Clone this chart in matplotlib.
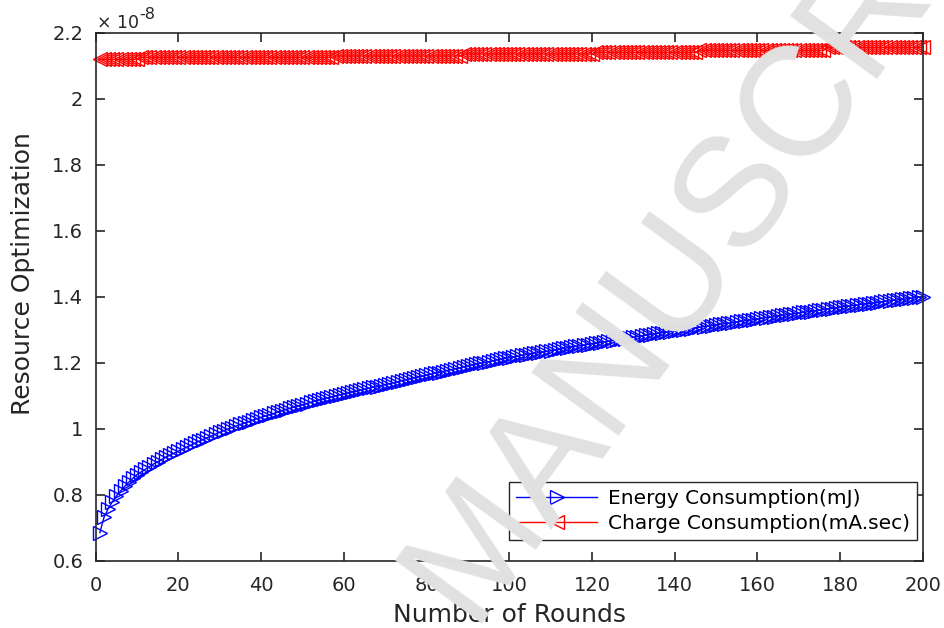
import matplotlib
matplotlib.use("Agg")
import matplotlib.pyplot as plt
import numpy as np

# ---- data (values in units of 1e-8) ----
rounds = list(range(1, 201))

energy = [
    0.686, 0.732, 0.758, 0.779, 0.797, 0.812, 0.826, 0.839, 0.851, 0.862,
    0.870, 0.878, 0.886, 0.894, 0.901, 0.908, 0.915, 0.921, 0.927, 0.933,
    0.939, 0.945, 0.951, 0.957, 0.963, 0.968, 0.974, 0.979, 0.985, 0.990,
    0.995, 1.000, 1.004, 1.009, 1.014, 1.018, 1.022, 1.027, 1.031, 1.035,
    1.039, 1.043, 1.047, 1.051, 1.055, 1.059, 1.063, 1.066, 1.070, 1.074,
    1.077, 1.081, 1.084, 1.088, 1.091, 1.094, 1.097, 1.100, 1.103, 1.106,
    1.109, 1.112, 1.114, 1.117, 1.120, 1.123, 1.126, 1.128, 1.131, 1.134,
    1.137, 1.140, 1.143, 1.146, 1.149, 1.152, 1.155, 1.157, 1.160, 1.163,
    1.166, 1.169, 1.171, 1.174, 1.177, 1.180, 1.183, 1.185, 1.188, 1.191,
    1.194, 1.196, 1.199, 1.201, 1.204, 1.206, 1.209, 1.211, 1.214, 1.216,
    1.218, 1.220, 1.223, 1.225, 1.227, 1.229, 1.231, 1.233, 1.235, 1.237,
    1.239, 1.241, 1.244, 1.246, 1.248, 1.250, 1.252, 1.254, 1.256, 1.258,
    1.260, 1.262, 1.264, 1.266, 1.268, 1.270, 1.272, 1.274, 1.276, 1.278,
    1.280, 1.282, 1.284, 1.286, 1.288, 1.290, 1.292, 1.293, 1.295, 1.297,
    1.299, 1.301, 1.302, 1.304, 1.306, 1.308, 1.310, 1.311, 1.313, 1.315,
    1.317, 1.319, 1.320, 1.322, 1.324, 1.326, 1.328, 1.329, 1.331, 1.333,
    1.335, 1.337, 1.338, 1.340, 1.342, 1.344, 1.346, 1.347, 1.349, 1.351,
    1.353, 1.355, 1.356, 1.358, 1.360, 1.362, 1.364, 1.365, 1.367, 1.369,
    1.371, 1.372, 1.374, 1.375, 1.377, 1.379, 1.380, 1.382, 1.383, 1.385,
    1.387, 1.388, 1.390, 1.391, 1.393, 1.394, 1.396, 1.397, 1.399, 1.400,
]

charge = [
    2.120, 2.120, 2.120, 2.120, 2.120, 2.120, 2.120, 2.120, 2.120, 2.120,
    2.126, 2.126, 2.126, 2.126, 2.126, 2.126, 2.126, 2.126, 2.126, 2.126,
    2.126, 2.126, 2.126, 2.126, 2.126, 2.126, 2.126, 2.126, 2.126, 2.126,
    2.126, 2.126, 2.126, 2.126, 2.126, 2.126, 2.126, 2.126, 2.126, 2.126,
    2.126, 2.126, 2.126, 2.126, 2.126, 2.126, 2.126, 2.126, 2.126, 2.126,
    2.126, 2.126, 2.126, 2.126, 2.126, 2.126, 2.126, 2.130, 2.130, 2.130,
    2.130, 2.130, 2.130, 2.130, 2.130, 2.130, 2.130, 2.130, 2.130, 2.130,
    2.130, 2.130, 2.130, 2.130, 2.130, 2.130, 2.130, 2.130, 2.130, 2.130,
    2.130, 2.130, 2.130, 2.130, 2.130, 2.130, 2.130, 2.130, 2.136, 2.136,
    2.136, 2.136, 2.136, 2.136, 2.136, 2.136, 2.136, 2.136, 2.136, 2.136,
    2.136, 2.136, 2.136, 2.136, 2.136, 2.136, 2.136, 2.136, 2.136, 2.136,
    2.136, 2.136, 2.136, 2.136, 2.136, 2.136, 2.136, 2.136, 2.136, 2.136,
    2.141, 2.141, 2.141, 2.141, 2.141, 2.141, 2.141, 2.141, 2.141, 2.141,
    2.141, 2.141, 2.141, 2.141, 2.141, 2.141, 2.141, 2.141, 2.141, 2.141,
    2.141, 2.141, 2.141, 2.141, 2.141, 2.147, 2.147, 2.147, 2.147, 2.147,
    2.147, 2.147, 2.147, 2.147, 2.147, 2.147, 2.147, 2.147, 2.147, 2.147,
    2.147, 2.147, 2.147, 2.147, 2.147, 2.147, 2.147, 2.147, 2.147, 2.147,
    2.147, 2.147, 2.147, 2.147, 2.147, 2.147, 2.156, 2.156, 2.156, 2.156,
    2.156, 2.156, 2.156, 2.156, 2.156, 2.156, 2.156, 2.156, 2.156, 2.156,
    2.156, 2.156, 2.156, 2.156, 2.156, 2.156, 2.156, 2.156, 2.156, 2.156,
]

x_ticks = [0, 20, 40, 60, 80, 100, 120, 140, 160, 180, 200]
y_ticks = [0.6, 0.8, 1.0, 1.2, 1.4, 1.6, 1.8, 2.0, 2.2]
series_labels = ["Energy Consumption(mJ)", "Charge Consumption(mA.sec)"]
x_label = "Number of Rounds"
y_label = "Resource Optimization"
exponent_base = "\u00d7 10"
exponent_power = "-8"
watermark = "MANUSCRIPT"

plt.rcParams['font.family'] = ['DejaVu Sans']

W, H = 944, 628
fig = plt.figure(figsize=(W / 100, H / 100), dpi=100)
ax = fig.add_axes([0.1014, 0.1067, 0.8760, 0.8408])

ax.plot(rounds, energy, color='#0000ff', lw=1.0, marker='>', ms=10,
        mfc='none', mew=1.0, label=series_labels[0], clip_on=False)
ax.plot(rounds, charge, color='#ff0000', lw=1.0, marker='<', ms=10,
        mfc='none', mew=1.0, label=series_labels[1], clip_on=False)

ax.set_xlim(0, 200)
ax.set_ylim(0.6, 2.2)
ax.set_xticks(x_ticks)
ax.set_yticks(y_ticks)
ax.set_xticklabels([f"{v:g}" for v in x_ticks])
ax.set_yticklabels([f"{v:g}" for v in y_ticks])

axis_col = '#262626'
for s in ax.spines.values():
    s.set_color(axis_col)
    s.set_linewidth(1.2)
ax.tick_params(direction='in', length=6.5, width=1.2, color=axis_col,
               labelsize=14, labelcolor=axis_col, top=True, right=True)
ax.tick_params(axis='x', pad=11)
ax.tick_params(axis='y', pad=9)

ax.set_xlabel(x_label, fontsize=18, color=axis_col)
ax.xaxis.set_label_coords(0.5, -0.0795)
ax.set_ylabel(y_label, fontsize=18, color=axis_col)
ax.yaxis.set_label_coords(-0.0734, 0.545)

fig.text(97 / W, 1 - 28 / H, exponent_base, fontsize=12.5, color=axis_col,
         ha='left', va='baseline')
fig.text(139 / W, 1 - 19 / H, exponent_power, fontsize=11.5, color=axis_col,
         ha='left', va='baseline')

leg = ax.legend(loc='lower right', bbox_to_anchor=(0.9931, 0.0398),
                borderaxespad=0, fontsize=14.5, handlelength=4.0,
                handletextpad=0.55, borderpad=0.35, labelspacing=0.3,
                fancybox=False, framealpha=1, edgecolor=axis_col)
leg.get_frame().set_linewidth(1.0)

# watermark
fig.text(470 / W, 4 / H, watermark, fontsize=112, color='#e1e1e1',
         rotation=54, rotation_mode='anchor', ha='left', va='baseline',
         family='Liberation Sans', zorder=10)

fig.savefig("out.png", dpi=100)
